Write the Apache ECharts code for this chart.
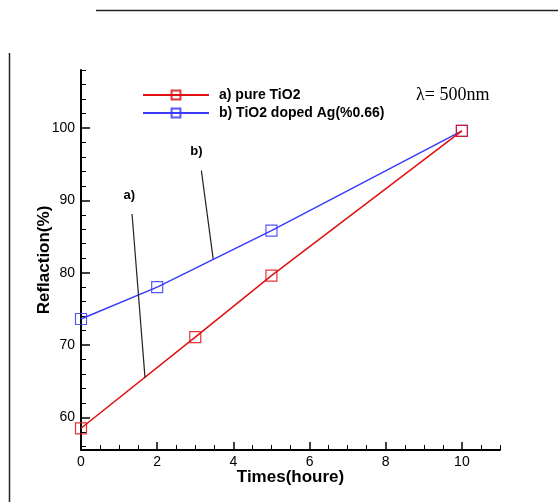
<!DOCTYPE html>
<html>
<head>
<meta charset="utf-8">
<script src="https://cdn.jsdelivr.net/npm/echarts@6/dist/echarts.min.js"></script>
<style>
  html, body { margin: 0; padding: 0; background: #fff; }
  #chart { width: 558px; height: 502px; }
</style>
</head>
<body>
<div id="chart"></div>
<script>
// Reflection vs. exposure time for pure and Ag-doped TiO2 films
const timesPure = [0, 3, 5, 10];
const reflPure = [58.5, 71.1, 79.6, 99.6];
const timesDoped = [0, 2, 5, 10];
const reflDoped = [73.6, 78.0, 85.8, 99.6];

const xMajorTicks = [0, 2, 4, 6, 8, 10];
const xMinorTicks = [0.5, 1, 1.5, 2.5, 3, 3.5, 4.5, 5, 5.5, 6.5, 7, 7.5, 8.5, 9, 9.5, 10.5, 11];
const yMajorTicks = [60, 70, 80, 90, 100];
const yMinorTicks = [56, 58, 62, 64, 66, 68, 72, 74, 76, 78, 82, 84, 86, 88, 92, 94, 96, 98, 102, 104, 106, 108];

const X_MIN = 0, X_MAX = 11, Y_MIN = 55.5, Y_MAX = 108;

const RED = '#e01010';
const BLUE = '#3a3aff';
const FONT = '"Liberation Sans", Arial, sans-serif';

const gridBox = { left: 81, top: 70, right: 58, bottom: 52, containLabel: false };

const chart = echarts.init(document.getElementById('chart'), null, { renderer: 'canvas' });

function pairs(xs, ys) { return xs.map((x, i) => [x, ys[i]]); }

const squareMarker = (color) => ({
  symbol: 'rect',
  symbolSize: 11,
  itemStyle: { color: 'rgba(255,255,255,0)', borderColor: color, borderWidth: 1.2, opacity: 0.85 }
});

chart.setOption({
  animation: false,
  backgroundColor: '#fff',
  grid: [Object.assign({}, gridBox), Object.assign({}, gridBox)],
  legend: {
    orient: 'vertical',
    left: 137,
    top: 83,
    itemWidth: 66,
    itemHeight: 11,
    itemGap: 4,
    textStyle: { fontFamily: FONT, fontWeight: 'bold', fontSize: 14, color: '#000', padding: [0, 0, 0, 5] },
    data: ['a) pure TiO2', 'b) TiO2 doped Ag(%0.66)']
  },
  xAxis: [
    {
      type: 'value', gridIndex: 0, min: X_MIN, max: X_MAX,
      name: 'Times(houre)', nameLocation: 'middle', nameGap: 19, nameMoveOverlap: false,
      nameTextStyle: { fontFamily: FONT, fontWeight: 'bold', fontSize: 17, color: '#000' },
      axisLine: { show: true, onZero: false, lineStyle: { color: '#000', width: 2 } },
      axisTick: { show: true, inside: true, length: 8, customValues: xMajorTicks, lineStyle: { color: '#000', width: 1.5 } },
      axisLabel: { show: true, customValues: xMajorTicks, margin: 5, fontFamily: FONT, fontSize: 14, color: '#000' },
      splitLine: { show: false }
    },
    {
      type: 'value', gridIndex: 1, min: X_MIN, max: X_MAX,
      axisLine: { show: false, onZero: false },
      axisTick: { show: true, inside: true, length: 5, customValues: xMinorTicks, lineStyle: { color: '#000', width: 1 } },
      axisLabel: { show: false },
      splitLine: { show: false }
    }
  ],
  yAxis: [
    {
      type: 'value', gridIndex: 0, min: Y_MIN, max: Y_MAX,
      name: 'Reflaction(%)', nameLocation: 'middle', nameGap: 28, nameRotate: 90, nameMoveOverlap: false,
      nameTextStyle: { fontFamily: FONT, fontWeight: 'bold', fontSize: 17, color: '#000' },
      axisLine: { show: true, onZero: false, lineStyle: { color: '#000', width: 2 } },
      axisTick: { show: true, inside: true, length: 9, customValues: yMajorTicks, lineStyle: { color: '#000', width: 1.5 } },
      axisLabel: { show: true, customValues: yMajorTicks, margin: 6, fontFamily: FONT, fontSize: 14, color: '#000' },
      splitLine: { show: false }
    },
    {
      type: 'value', gridIndex: 1, min: Y_MIN, max: Y_MAX,
      axisLine: { show: false, onZero: false },
      axisTick: { show: true, inside: true, length: 5, customValues: yMinorTicks, lineStyle: { color: '#000', width: 1 } },
      axisLabel: { show: false },
      splitLine: { show: false }
    }
  ],
  series: [
    Object.assign({
      name: 'a) pure TiO2',
      type: 'line',
      xAxisIndex: 0, yAxisIndex: 0,
      data: pairs(timesPure, reflPure),
      lineStyle: { color: RED, width: 1.5 },
      color: RED,
      z: 3,
      markLine: {
        silent: true,
        symbol: ['none', 'none'],
        label: { show: false },
        lineStyle: { color: '#222', width: 1.2, type: 'solid' },
        data: [[{ coord: [1.34, 88.1] }, { coord: [1.68, 65.5] }]]
      },
      markPoint: {
        silent: true,
        symbol: 'circle', symbolSize: 1,
        itemStyle: { color: 'rgba(0,0,0,0)' },
        label: { show: true, position: 'inside', formatter: 'a)', fontFamily: FONT, fontWeight: 'bold', fontSize: 13, color: '#000' },
        data: [{ coord: [1.27, 90.7] }]
      }
    }, squareMarker(RED)),
    Object.assign({
      name: 'b) TiO2 doped Ag(%0.66)',
      type: 'line',
      xAxisIndex: 0, yAxisIndex: 0,
      data: pairs(timesDoped, reflDoped),
      lineStyle: { color: BLUE, width: 1.5 },
      color: BLUE,
      z: 2,
      markLine: {
        silent: true,
        symbol: ['none', 'none'],
        label: { show: false },
        lineStyle: { color: '#222', width: 1.2, type: 'solid' },
        data: [[{ coord: [3.16, 94.1] }, { coord: [3.47, 81.9] }]]
      },
      markPoint: {
        silent: true,
        symbol: 'circle', symbolSize: 1,
        itemStyle: { color: 'rgba(0,0,0,0)' },
        label: { show: true, position: 'inside', formatter: 'b)', fontFamily: FONT, fontWeight: 'bold', fontSize: 13, color: '#000' },
        data: [{ coord: [3.03, 96.7] }]
      }
    }, squareMarker(BLUE))
  ],
  graphic: [
    {
      type: 'text', left: 416, top: 86,
      style: { text: 'λ= 500nm', font: '18px "Liberation Serif", "Times New Roman", serif', fill: '#000' }
    },
    {
      type: 'line', silent: true,
      shape: { x1: 96, y1: 10.5, x2: 558, y2: 10.5 },
      style: { stroke: '#222', lineWidth: 1.5 }
    },
    {
      type: 'line', silent: true,
      shape: { x1: 9.5, y1: 53, x2: 9.5, y2: 502 },
      style: { stroke: '#222', lineWidth: 1.5 }
    }
  ]
});
</script>
</body>
</html>
